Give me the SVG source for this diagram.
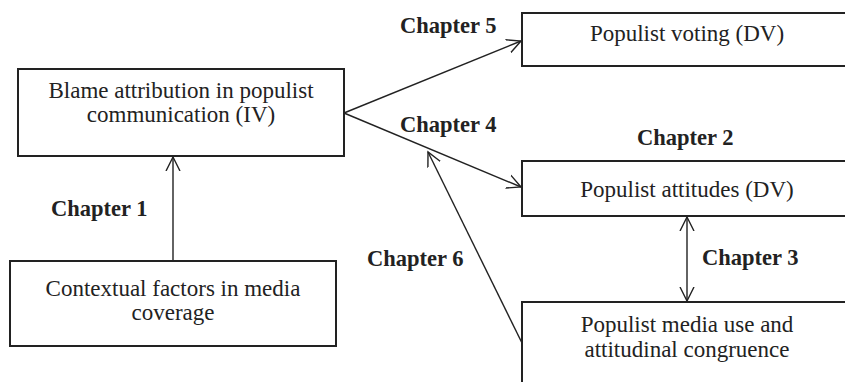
<svg xmlns="http://www.w3.org/2000/svg" width="845" height="382" viewBox="0 0 845 382">
<defs>
<marker id="arr" markerUnits="userSpaceOnUse" markerWidth="16" markerHeight="16" refX="14" refY="7" orient="auto-start-reverse" viewBox="0 0 16 14">
<path d="M0,0 L14,7 L0,14" fill="none" stroke="#222" stroke-width="1.4"/>
</marker>
<style>
.box{fill:#fff;stroke:#222;stroke-width:2}
.nt{font-family:"Liberation Serif","Times New Roman",serif;font-size:23px;fill:#222;text-anchor:middle}
.lb{font-family:"Liberation Serif","Times New Roman",serif;font-size:22.5px;font-weight:bold;fill:#222}
.cn{stroke:#222;stroke-width:1.4;fill:none}
</style>
</defs>
<rect width="845" height="382" fill="#fff"/>
<g id="connectors">
<line class="cn" x1="173" y1="261" x2="173" y2="157" marker-end="url(#arr)"/>
<line class="cn" x1="344" y1="113" x2="521" y2="41" marker-end="url(#arr)"/>
<line class="cn" x1="344" y1="113" x2="521" y2="187" marker-end="url(#arr)"/>
<line class="cn" x1="522" y1="343" x2="428" y2="152" marker-end="url(#arr)"/>
<line class="cn" x1="687" y1="217" x2="687" y2="301" marker-start="url(#arr)" marker-end="url(#arr)"/>
</g>
<g id="n-blame">
<rect class="box" x="18" y="69" width="326" height="87"/>
<text class="nt" x="181" y="98">Blame attribution in populist</text>
<text class="nt" x="181" y="122">communication (IV)</text>
</g>
<g id="n-context">
<rect class="box" x="10" y="261" width="326" height="85"/>
<text class="nt" x="173" y="296">Contextual factors in media</text>
<text class="nt" x="173" y="320">coverage</text>
</g>
<g id="n-voting">
<rect class="box" x="522" y="13" width="330" height="53"/>
<text class="nt" x="687" y="41">Populist voting (DV)</text>
</g>
<g id="n-attitudes">
<rect class="box" x="522" y="161" width="330" height="55"/>
<text class="nt" x="687" y="197">Populist attitudes (DV)</text>
</g>
<g id="n-media">
<rect class="box" x="522" y="302" width="330" height="90"/>
<text class="nt" x="687" y="332">Populist media use and</text>
<text class="nt" x="687" y="357">attitudinal congruence</text>
</g>
<g id="labels">
<text class="lb" x="51" y="216">Chapter 1</text>
<text class="lb" x="637" y="145">Chapter 2</text>
<text class="lb" x="702" y="265">Chapter 3</text>
<text class="lb" x="400" y="132">Chapter 4</text>
<text class="lb" x="400" y="33">Chapter 5</text>
<text class="lb" x="367" y="266">Chapter 6</text>
</g>
</svg>
